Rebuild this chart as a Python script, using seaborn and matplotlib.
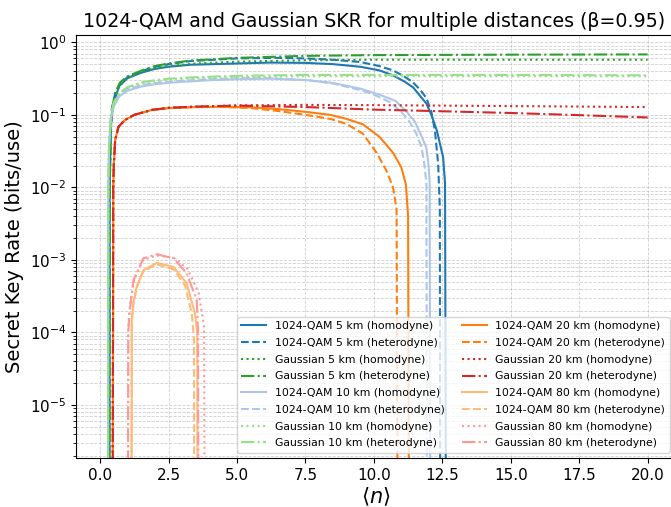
import numpy as np
import pandas as pd
import matplotlib
matplotlib.use("Agg")
import matplotlib.pyplot as plt
import seaborn as sns

TINY = 1e-9

# ---- 5 km ----
q5_hom_x = [0.33, 0.35, 0.40, 0.50, 0.70, 1.00, 1.50, 2.00, 2.50, 3.30, 5.00, 6.20, 7.50, 8.50, 9.50, 10.20, 10.70, 11.10, 11.43, 11.70, 11.92, 12.10, 12.30, 12.45, 12.53, 12.60, 12.65]
q5_hom_y = [TINY, 0.01, 0.08, 0.15, 0.25, 0.32, 0.38, 0.43, 0.46, 0.49, 0.51, 0.525, 0.52, 0.50, 0.46, 0.41, 0.35, 0.29, 0.24, 0.18, 0.143, 0.10, 0.061, 0.035, 0.026, 0.0114, TINY]
q5_het_x = [0.33, 0.35, 0.38, 0.43, 0.55, 0.73, 1.00, 1.60, 2.00, 2.50, 3.30, 5.00, 6.50, 7.50, 8.50, 9.50, 10.20, 10.70, 11.10, 11.43, 11.70, 11.92, 12.10, 12.23, 12.35, 12.41, 12.43]
q5_het_y = [TINY, 0.01, 0.05, 0.12, 0.20, 0.27, 0.33, 0.41, 0.46, 0.50, 0.55, 0.60, 0.61, 0.60, 0.575, 0.535, 0.47, 0.41, 0.34, 0.28, 0.22, 0.17, 0.11, 0.061, 0.021, 0.005, TINY]
g5_hom_x = [0.33, 0.35, 0.40, 0.50, 0.70, 1.00, 1.50, 2.00, 2.50, 3.50, 5.00, 7.50, 10.0, 15.0, 20.0]
g5_hom_y = [TINY, 0.01, 0.08, 0.15, 0.25, 0.32, 0.39, 0.43, 0.47, 0.51, 0.54, 0.565, 0.575, 0.575, 0.575]
g5_het_x = [0.33, 0.35, 0.38, 0.43, 0.55, 0.73, 1.00, 1.60, 2.00, 2.50, 3.30, 5.00, 7.50, 10.0, 15.0, 20.0]
g5_het_y = [TINY, 0.01, 0.05, 0.12, 0.20, 0.28, 0.34, 0.42, 0.47, 0.51, 0.56, 0.61, 0.65, 0.665, 0.675, 0.68]

# ---- 10 km ----
q10_hom_x = [0.28, 0.30, 0.33, 0.40, 0.50, 0.70, 1.00, 1.50, 2.00, 2.70, 4.00, 5.00, 6.20, 7.60, 8.50, 9.50, 10.20, 10.80, 11.20, 11.50, 11.75, 11.92, 12.00, 12.04, 12.07]
q10_hom_y = [TINY, 0.01, 0.04, 0.09, 0.13, 0.18, 0.215, 0.245, 0.265, 0.28, 0.30, 0.31, 0.315, 0.30, 0.275, 0.23, 0.19, 0.155, 0.11, 0.08, 0.05, 0.035, 0.02, 0.0113, TINY]
q10_het_x = [0.28, 0.30, 0.33, 0.40, 0.50, 0.70, 1.00, 1.50, 2.00, 2.70, 4.00, 5.00, 6.20, 7.60, 8.50, 9.50, 10.00, 10.58, 11.00, 11.31, 11.55, 11.74, 11.85, 11.92, 11.95]
q10_het_y = [TINY, 0.01, 0.04, 0.10, 0.14, 0.19, 0.225, 0.255, 0.275, 0.29, 0.31, 0.32, 0.32, 0.30, 0.27, 0.22, 0.19, 0.15, 0.11, 0.08, 0.055, 0.036, 0.02, 0.0113, TINY]
g10_hom_x = [0.28, 0.30, 0.33, 0.40, 0.50, 0.70, 1.00, 1.50, 2.00, 2.50, 3.50, 5.00, 7.50, 10.0, 15.0, 20.0]
g10_hom_y = [TINY, 0.01, 0.04, 0.10, 0.145, 0.195, 0.235, 0.27, 0.29, 0.305, 0.32, 0.33, 0.34, 0.34, 0.34, 0.34]
g10_het_x = [0.28, 0.30, 0.33, 0.40, 0.50, 0.70, 1.00, 1.50, 2.00, 2.50, 3.50, 5.00, 7.50, 10.0, 15.0, 20.0]
g10_het_y = [TINY, 0.01, 0.04, 0.10, 0.15, 0.20, 0.24, 0.28, 0.30, 0.315, 0.33, 0.345, 0.355, 0.355, 0.355, 0.35]

# ---- 20 km ----
q20_hom_x = [0.45, 0.48, 0.50, 0.55, 0.67, 0.90, 1.25, 1.90, 2.50, 3.50, 4.50, 5.50, 6.50, 7.50, 8.40, 9.00, 9.60, 10.20, 10.70, 11.00, 11.17, 11.25, 11.30]
q20_hom_y = [TINY, 0.01, 0.02, 0.045, 0.068, 0.084, 0.10, 0.117, 0.124, 0.128, 0.129, 0.127, 0.12, 0.11, 0.10, 0.088, 0.074, 0.05, 0.03, 0.019, 0.011, 0.004, TINY]
q20_het_x = [0.45, 0.48, 0.50, 0.55, 0.67, 0.90, 1.25, 1.90, 2.50, 3.50, 4.50, 5.50, 6.50, 7.50, 8.40, 9.00, 9.60, 10.10, 10.46, 10.70, 10.83, 10.89]
q20_het_y = [TINY, 0.01, 0.02, 0.045, 0.068, 0.084, 0.10, 0.117, 0.124, 0.128, 0.128, 0.124, 0.113, 0.10, 0.088, 0.075, 0.055, 0.03, 0.017, 0.010, 0.005, TINY]
g20_hom_x = [0.45, 0.48, 0.50, 0.55, 0.67, 0.90, 1.25, 1.90, 2.50, 3.50, 5.00, 7.50, 10.0, 15.0, 20.0]
g20_hom_y = [TINY, 0.01, 0.02, 0.045, 0.068, 0.085, 0.10, 0.117, 0.125, 0.13, 0.135, 0.137, 0.136, 0.132, 0.128]
g20_het_x = [0.45, 0.48, 0.50, 0.55, 0.67, 0.90, 1.25, 1.90, 2.50, 3.50, 5.00, 7.50, 10.0, 12.5, 15.0, 17.5, 20.0]
g20_het_y = [TINY, 0.01, 0.02, 0.045, 0.068, 0.085, 0.10, 0.117, 0.125, 0.13, 0.134, 0.128, 0.118, 0.112, 0.106, 0.099, 0.092]

# ---- 80 km ----
q80_hom_x = [1.14, 1.16, 1.22, 1.34, 1.58, 2.07, 2.68, 3.16, 3.47, 3.55, 3.58]
q80_hom_y = [TINY, 1.5e-4, 2.6e-4, 4.3e-4, 7.2e-4, 9.1e-4, 8.0e-4, 4.8e-4, 1.8e-4, 9.8e-5, TINY]
q80_het_x = [1.14, 1.16, 1.22, 1.34, 1.58, 2.07, 2.68, 3.10, 3.35, 3.43, 3.45]
q80_het_y = [TINY, 1.4e-4, 2.5e-4, 4.2e-4, 7.0e-4, 8.7e-4, 7.4e-4, 4.5e-4, 1.8e-4, 8.0e-5, TINY]
g80_hom_x = [1.00, 1.03, 1.10, 1.25, 1.58, 2.07, 2.68, 3.20, 3.60, 3.80, 3.83]
g80_hom_y = [TINY, 1.2e-4, 2.5e-4, 5.5e-4, 1.0e-3, 1.15e-3, 1.08e-3, 7.5e-4, 3.5e-4, 1.2e-4, TINY]
g80_het_x = [1.00, 1.03, 1.07, 1.22, 1.58, 2.07, 2.68, 3.16, 3.53, 3.58, 3.60]
g80_het_y = [TINY, 1.0e-4, 1.8e-4, 5.3e-4, 1.05e-3, 1.2e-3, 1.05e-3, 6.6e-4, 2.8e-4, 1.0e-4, TINY]

distances = ["5", "10", "20", "80"]
qam_colors = {"5": "#1f77b4", "10": "#aec7e8", "20": "#ff7f0e", "80": "#ffbb78"}
gau_colors = {"5": "#2ca02c", "10": "#98df8a", "20": "#d62728", "80": "#ff9896"}

series = {
    "5": [(q5_hom_x, q5_hom_y), (q5_het_x, q5_het_y), (g5_hom_x, g5_hom_y), (g5_het_x, g5_het_y)],
    "10": [(q10_hom_x, q10_hom_y), (q10_het_x, q10_het_y), (g10_hom_x, g10_hom_y), (g10_het_x, g10_het_y)],
    "20": [(q20_hom_x, q20_hom_y), (q20_het_x, q20_het_y), (g20_hom_x, g20_hom_y), (g20_het_x, g20_het_y)],
    "80": [(q80_hom_x, q80_hom_y), (q80_het_x, q80_het_y), (g80_hom_x, g80_hom_y), (g80_het_x, g80_het_y)],
}

fig = plt.figure(figsize=(6.71, 5.07), dpi=100)
ax = fig.add_axes([76 / 671, 49 / 507, 599 / 671, 423 / 507])

for d in distances:
    specs = [
        (f"1024-QAM {d} km (homodyne)", qam_colors[d], "-"),
        (f"1024-QAM {d} km (heterodyne)", qam_colors[d], "--"),
        (f"Gaussian {d} km (homodyne)", gau_colors[d], ":"),
        (f"Gaussian {d} km (heterodyne)", gau_colors[d], "-."),
    ]
    for (xs, ys), (lab, col, ls) in zip(series[d], specs):
        df = pd.DataFrame({"n": xs, "skr": ys})
        sns.lineplot(data=df, x="n", y="skr", ax=ax, color=col, linestyle=ls,
                     linewidth=1.5, label=lab, estimator=None, sort=False)

ax.set_yscale("log")
ax.set_xlim(-0.88, 21.0)
ax.set_ylim(1.86e-6, 1.26)
ax.grid(True, which="both", linestyle="--", linewidth=0.6, alpha=0.6)
ax.set_title("1024-QAM and Gaussian SKR for multiple distances (β=0.95)",
             fontsize=13.7, x=0.497)
ax.set_xlabel(r"$\langle n \rangle$", fontsize=15, labelpad=2)
ax.set_ylabel("Secret Key Rate (bits/use)", fontsize=14)
ax.tick_params(axis="both", which="major", labelsize=11)
ax.legend(loc="lower right", ncol=2, fontsize=7.8, labelspacing=0.62,
          handlelength=2.3, columnspacing=1.6)

fig.savefig("out.png", dpi=100)
